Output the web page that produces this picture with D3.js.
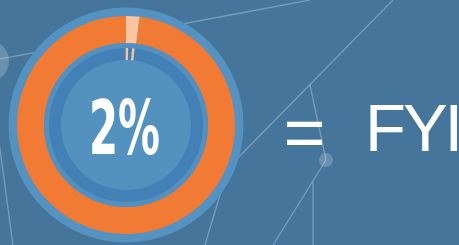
<!DOCTYPE html>
<html>
<head>
<meta charset="utf-8">
<script src="https://cdn.jsdelivr.net/npm/d3@7"></script>
<style>
  html, body { margin: 0; padding: 0; background: #45759a; }
  #chart { width: 459px; height: 245px; overflow: hidden; }
</style>
</head>
<body>
<div id="chart"></div>
<script>
// chart values
var sliceNames = ["FYI", "other"];
var sliceValues = [2, 98];
var centerLabel = ["2%"];
var equationParts = ["=", "FYI"];

var width = 459;
var height = 245;
var cx = 126, cy = 125;

var svg = d3.select("#chart")
    .append("svg")
    .attr("width", width)
    .attr("height", height);

svg.append("rect")
    .attr("width", width)
    .attr("height", height)
    .attr("fill", "#45759a");

// background network decoration
var net = svg.append("g").attr("stroke", "rgba(255,255,255,0.28)").attr("stroke-width", 1.3).attr("fill", "none");
var links = [
    [[150, 30], [310, 0]],
    [[-12, 61], [60, 48]],
    [[-12, 61], [13, 245]],
    [[393, 0], [228, 168]],
    [[228, 168], [205, 245]],
    [[310, 85], [326, 160]],
    [[326, 160], [273, 245]],
    [[313, 182], [313, 245]]
];
net.selectAll("line")
    .data(links)
    .enter()
    .append("line")
        .attr("x1", function(d) { return d[0][0]; })
        .attr("y1", function(d) { return d[0][1]; })
        .attr("x2", function(d) { return d[1][0]; })
        .attr("y2", function(d) { return d[1][1]; });

svg.append("circle").attr("cx", -12).attr("cy", 61).attr("r", 21).attr("fill", "rgba(255,255,255,0.2)");
svg.append("circle").attr("cx", 326).attr("cy", 160).attr("r", 7).attr("fill", "rgba(255,255,255,0.2)");

// donut
var g = svg.append("g").attr("transform", "translate(" + cx + "," + cy + ")");

g.append("circle").attr("r", 117.5).attr("fill", "#5493c1");

var pie = d3.pie().sort(null);
var arcs = pie(sliceValues);
var colorScale = d3.scaleOrdinal().domain(sliceNames).range(["#fcc6a1", "#f17a35"]);

var arc = d3.arc().innerRadius(82).outerRadius(109);

g.selectAll("path.slice")
    .data(arcs)
    .enter()
    .append("path")
        .attr("class", "slice")
        .attr("d", arc)
        .attr("fill", function(d, i) { return colorScale(sliceNames[i]); });

g.append("circle").attr("r", 82).attr("fill", "#5190c0");
g.append("circle").attr("r", 77).attr("fill", "#4280b5");
g.append("circle").attr("r", 65).attr("fill", "#5391bf");

// small tick marks under the highlighted slice
var hi = arcs[0];
var tickAngles = [hi.startAngle + 0.012, hi.endAngle - 0.03];
g.selectAll("rect.tick")
    .data(tickAngles)
    .enter()
    .append("rect")
        .attr("class", "tick")
        .attr("x", -1.2)
        .attr("y", -77)
        .attr("width", 2.4)
        .attr("height", 12)
        .attr("fill", "#f5c3a3")
        .attr("transform", function(d) { return "rotate(" + (d * 180 / Math.PI) + ")"; });

g.append("text")
    .attr("x", -1.5)
    .attr("y", 29)
    .attr("text-anchor", "middle")
    .attr("font-family", "'Liberation Sans Narrow', 'DejaVu Sans Condensed', sans-serif")
    .attr("font-weight", "bold")
    .attr("font-size", 74)
    .attr("textLength", 71)
    .attr("lengthAdjust", "spacingAndGlyphs")
    .attr("fill", "#ffffff")
    .text(centerLabel[0]);

// equation text
svg.append("text")
    .attr("x", 304.5)
    .attr("y", 157)
    .attr("text-anchor", "middle")
    .attr("font-family", "'Liberation Sans', Arial, sans-serif")
    .attr("font-size", 72)
    .attr("fill", "#ffffff")
    .text(equationParts[0]);

svg.append("text")
    .attr("x", 365)
    .attr("y", 151)
    .attr("font-family", "'Liberation Sans', Arial, sans-serif")
    .attr("font-size", 67)
    .attr("letter-spacing", -3)
    .attr("fill", "#ffffff")
    .text(equationParts[1]);
</script>
</body>
</html>
